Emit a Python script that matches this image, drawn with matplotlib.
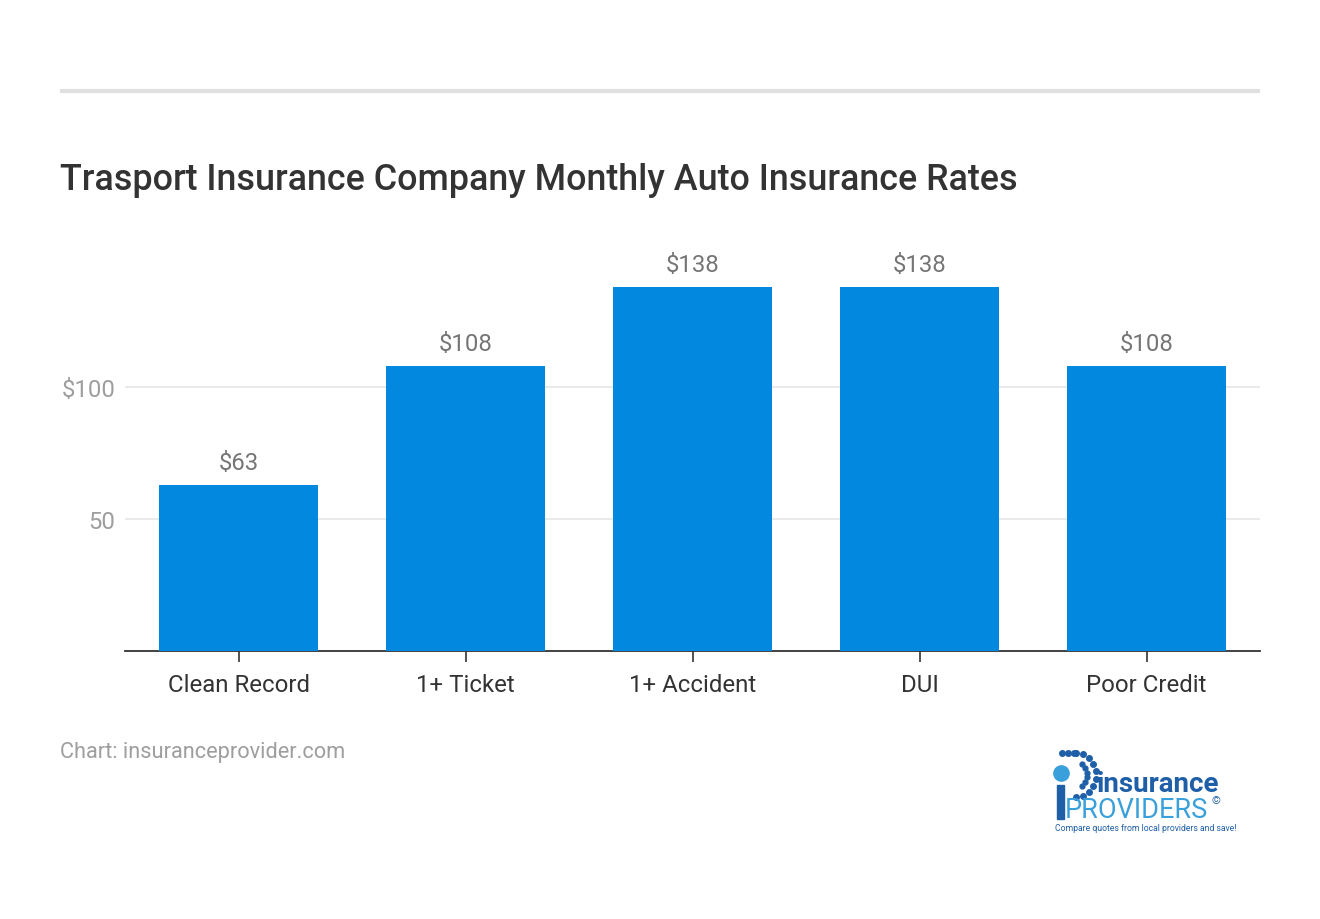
import matplotlib
matplotlib.use("Agg")
import matplotlib.pyplot as plt
from matplotlib.lines import Line2D
import numpy as np

categories = ["Clean Record", "1+ Ticket", "1+ Accident", "DUI", "Poor Credit"]
rates = [63, 108, 138, 138, 108]
ytick_values = [50, 100]
ytick_labels = ["50", "$100"]

plt.rcParams['font.family'] = ['Roboto', 'DejaVu Sans']

fig = plt.figure(figsize=(13.2, 9.2), dpi=100)
W, H = 1320, 920

def fx(px): return px / W
def fy(py): return 1 - py / H

# top rule
fig.add_artist(Line2D([fx(60), fx(1260)], [fy(92), fy(92)], color='#e0e0e0', lw=3,
                      solid_capstyle='butt'))

fig.text(fx(60), fy(180), "Trasport Insurance Company Monthly Auto Insurance Rates",
         fontsize=25.8, fontweight='medium', color='#333333', va='center', ha='left')

ax = fig.add_axes([fx(125), fy(652), fx(1260) - fx(125), fy(256) - fy(652)])
x = list(range(len(categories)))
ax.bar(x, rates, width=0.70, color='#0289DF', zorder=3)
ax.set_xlim(-0.5, len(categories) - 0.5)
ax.set_ylim(0, 150)

for xi, v in zip(x, rates):
    ax.text(xi, v + 4, f"${v}", ha='center', va='bottom', fontsize=17.2, color='#757575')

ax.set_yticks(ytick_values)
ax.set_yticklabels(ytick_labels)
ax.tick_params(axis='y', length=0, pad=7, labelsize=17.2, labelcolor='#9e9e9e')
ax.grid(axis='y', color='#e6e6e6', lw=1.2, zorder=0)
ax.set_xticks(x)
ax.set_xticklabels(categories)
ax.tick_params(axis='x', length=8, width=1.2, color='#333333', pad=8, labelsize=17.3, labelcolor='#333333')
for s in ['top', 'right', 'left']:
    ax.spines[s].set_visible(False)
ax.spines['bottom'].set_color('#333333')
ax.spines['bottom'].set_linewidth(1.3)

fig.text(fx(60), fy(753), "Chart: insuranceprovider.com", fontsize=15.7, color='#9e9e9e',
         va='center', ha='left')

# logo approximation (data coords = pixel offsets from (1050, 748))
lax = fig.add_axes([fx(1050), fy(832), fx(1250) - fx(1050), fy(748) - fy(832)])
lax.set_xlim(0, 200); lax.set_ylim(84, 0); lax.axis('off')
theta = np.linspace(-np.pi/2, np.pi/2, 10)
for t in theta:
    lax.plot(26 + 20*np.cos(t), 28 + 22*np.sin(t), 'o', color='#1f5fa8', ms=4)
for t in theta[2:8]:
    lax.plot(24 + 13*np.cos(t), 28 + 14*np.sin(t), 'o', color='#1f5fa8', ms=3.5)
for xx in [12, 18, 24]:
    lax.plot(xx, 6, 'o', color='#1f5fa8', ms=4)
lax.plot(11, 26, 'o', color='#3aa0dc', ms=11)
lax.add_patch(plt.Rectangle((7, 38), 7, 34, color='#1f5fa8'))
lax.text(47, 44, "insurance", fontsize=20, fontweight='bold', color='#1f5fa8', va='baseline', ha='left')
lax.text(15, 70, "PROVIDERS", fontsize=19.5, color='#3aa0dc', va='baseline', ha='left')
lax.text(161, 53, "©", fontsize=8, color='#1f5fa8', va='center')
lax.text(5, 81, "Compare quotes from local providers and save!", fontsize=6.2, color='#1f5fa8',
         va='center', ha='left')

fig.savefig("out.png", dpi=100)
